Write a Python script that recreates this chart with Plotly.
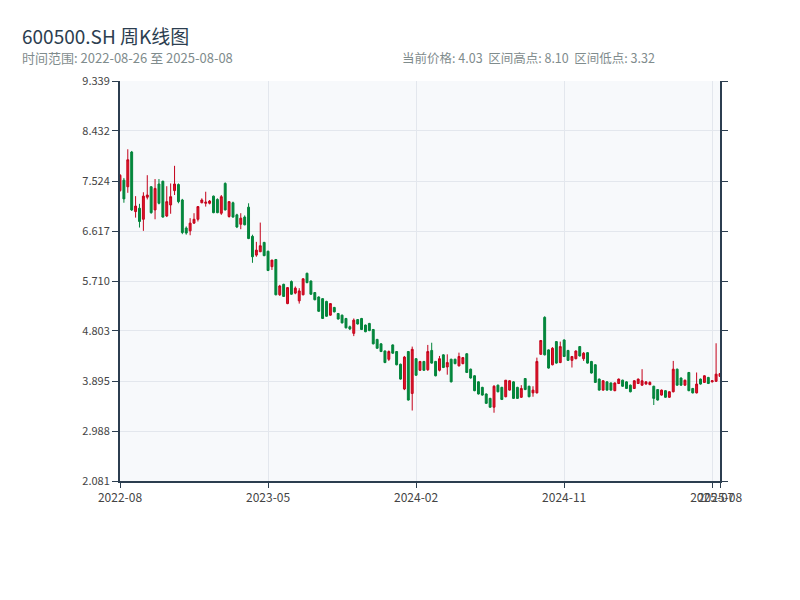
import pandas as pd
import plotly.graph_objects as go

start_date = "2022-08-26"
n_weeks = 155
dates = pd.date_range(start_date, periods=n_weeks, freq="7D")

opens = [7.35, 7.54, 7.42, 8.05, 6.97, 7.03, 6.83, 7.23, 7.42, 7.00,
         7.47, 7.52, 6.89, 7.09, 7.35, 7.46, 7.18, 6.67, 6.62, 6.76,
         6.83, 7.13, 7.12, 7.12, 7.25, 7.19, 6.94, 7.48, 6.88, 7.13,
         6.91, 6.74, 6.87, 7.05, 6.52, 6.18, 6.24, 6.41, 6.25, 5.97,
         6.10, 5.46, 5.65, 5.30, 5.70, 5.49, 5.35, 5.46, 5.85, 5.71,
         5.50, 5.42, 5.39, 5.34, 5.09, 5.23, 5.12, 5.09, 5.03, 4.88,
         4.76, 5.01, 5.03, 4.91, 4.94, 4.83, 4.65, 4.57, 4.44, 4.29,
         4.55, 4.43, 4.20, 3.75, 4.43, 3.67, 4.30, 4.09, 4.25, 4.10,
         4.45, 4.25, 4.09, 4.37, 4.15, 4.29, 4.29, 4.17, 4.21, 4.39,
         4.11, 3.99, 3.88, 3.78, 3.66, 3.58, 3.42, 3.82, 3.78, 3.61,
         3.73, 3.88, 3.78, 3.60, 3.94, 3.80, 3.68, 3.68, 4.38, 5.05,
         4.46, 4.19, 4.61, 4.23, 4.64, 4.45, 4.27, 4.30, 4.52, 4.30,
         4.41, 4.25, 4.19, 3.93, 3.73, 3.88, 3.86, 3.72, 3.85, 3.91,
         3.88, 3.82, 3.76, 3.85, 3.82, 3.84, 3.83, 3.80, 3.74, 3.64,
         3.72, 3.60, 3.70, 4.11, 3.95, 3.82, 4.05, 3.76, 3.68, 3.93,
         3.87, 3.96, 3.88, 3.89, 3.98]
highs = [7.65, 7.58, 8.10, 8.07, 7.25, 7.11, 7.32, 7.63, 7.43, 7.56,
         7.56, 7.53, 7.43, 7.48, 7.80, 7.48, 7.20, 6.70, 6.85, 6.94,
         7.07, 7.21, 7.33, 7.18, 7.26, 7.21, 7.27, 7.50, 7.16, 7.15,
         6.93, 6.94, 6.90, 7.12, 6.55, 6.42, 6.77, 6.42, 6.26, 6.09,
         6.11, 5.64, 5.66, 5.60, 5.72, 5.61, 5.58, 5.76, 5.86, 5.72,
         5.51, 5.43, 5.40, 5.35, 5.31, 5.24, 5.13, 5.10, 5.04, 4.90,
         5.03, 5.02, 5.04, 4.92, 4.95, 4.84, 4.66, 4.58, 4.45, 4.45,
         4.56, 4.44, 4.21, 4.35, 4.44, 4.52, 4.31, 4.26, 4.26, 4.55,
         4.59, 4.26, 4.35, 4.38, 4.38, 4.30, 4.30, 4.41, 4.33, 4.40,
         4.12, 4.00, 3.89, 3.79, 3.67, 3.59, 3.82, 3.83, 3.79, 3.91,
         3.91, 3.89, 3.79, 3.82, 3.95, 3.81, 3.80, 4.32, 4.64, 5.07,
         4.47, 4.51, 4.62, 4.61, 4.65, 4.46, 4.35, 4.45, 4.53, 4.42,
         4.42, 4.26, 4.20, 3.94, 3.91, 3.89, 3.87, 3.87, 3.94, 3.92,
         3.89, 3.83, 3.91, 3.94, 4.11, 3.89, 3.89, 3.81, 3.75, 3.74,
         3.73, 3.71, 4.26, 4.12, 3.96, 3.92, 4.06, 3.77, 4.05, 3.94,
         4.00, 3.97, 3.91, 4.58, 4.04]
lows = [7.33, 7.13, 7.31, 6.98, 6.86, 6.68, 6.62, 7.19, 6.93, 6.83,
        7.10, 6.86, 6.87, 6.93, 7.27, 7.12, 6.56, 6.55, 6.54, 6.75,
        6.79, 7.12, 7.06, 7.10, 6.94, 6.94, 6.91, 6.99, 6.86, 6.86,
        6.67, 6.65, 6.72, 6.47, 6.04, 6.15, 6.24, 6.16, 5.89, 5.91,
        5.45, 5.44, 5.42, 5.29, 5.46, 5.47, 5.30, 5.45, 5.67, 5.46,
        5.36, 5.15, 5.02, 5.06, 5.08, 5.14, 5.01, 4.94, 4.85, 4.82,
        4.71, 4.92, 4.82, 4.78, 4.80, 4.56, 4.48, 4.42, 4.22, 4.26,
        4.39, 4.18, 3.92, 3.73, 3.54, 3.36, 3.99, 4.08, 4.08, 4.08,
        4.21, 3.98, 4.07, 4.13, 4.01, 3.87, 4.20, 4.16, 4.20, 4.04,
        3.94, 3.71, 3.65, 3.63, 3.48, 3.41, 3.32, 3.69, 3.55, 3.60,
        3.72, 3.57, 3.57, 3.59, 3.73, 3.60, 3.61, 3.67, 4.37, 4.36,
        4.12, 4.18, 4.21, 4.22, 4.33, 4.26, 4.14, 4.29, 4.34, 4.26,
        4.21, 4.03, 3.86, 3.72, 3.72, 3.72, 3.72, 3.71, 3.84, 3.79,
        3.75, 3.69, 3.75, 3.84, 3.81, 3.83, 3.82, 3.46, 3.54, 3.63,
        3.59, 3.59, 3.69, 3.81, 3.81, 3.81, 3.71, 3.67, 3.67, 3.83,
        3.86, 3.84, 3.87, 3.88, 3.97]
closes = [7.63, 7.20, 7.91, 7.00, 7.07, 6.79, 7.25, 7.27, 6.95, 7.39,
          7.12, 6.87, 7.15, 7.24, 7.47, 7.15, 6.59, 6.58, 6.76, 6.83,
          7.06, 7.18, 7.14, 7.16, 6.95, 6.95, 7.24, 7.00, 7.15, 6.87,
          6.69, 6.85, 6.73, 6.48, 6.15, 6.27, 6.35, 6.17, 5.90, 6.09,
          5.46, 5.62, 5.43, 5.59, 5.47, 5.58, 5.53, 5.75, 5.68, 5.47,
          5.37, 5.16, 5.03, 5.07, 5.30, 5.15, 5.02, 4.95, 4.86, 4.84,
          5.00, 4.93, 4.83, 4.79, 4.81, 4.57, 4.49, 4.43, 4.23, 4.43,
          4.40, 4.19, 3.93, 4.33, 3.55, 4.47, 4.00, 4.25, 4.09, 4.43,
          4.22, 3.99, 4.30, 4.14, 4.23, 3.88, 4.21, 4.34, 4.32, 4.05,
          3.95, 3.72, 3.66, 3.64, 3.49, 3.42, 3.80, 3.70, 3.56, 3.91,
          3.90, 3.58, 3.58, 3.76, 3.74, 3.61, 3.73, 4.25, 4.63, 4.37,
          4.13, 4.49, 4.22, 4.52, 4.34, 4.27, 4.34, 4.44, 4.35, 4.40,
          4.22, 4.04, 3.87, 3.73, 3.90, 3.73, 3.73, 3.86, 3.93, 3.80,
          3.76, 3.70, 3.90, 3.93, 3.90, 3.88, 3.87, 3.58, 3.55, 3.73,
          3.60, 3.70, 4.11, 3.82, 3.82, 3.91, 3.72, 3.68, 3.84, 3.84,
          3.99, 3.85, 3.90, 4.02, 4.03]

y_ticks = [2.081, 2.988, 3.895, 4.803, 5.710, 6.617, 7.524, 8.432, 9.339]
y_tick_labels = ["2.081", "2.988", "3.895", "4.803", "5.710", "6.617", "7.524", "8.432", "9.339"]
x_tick_idx = [0, 38, 76, 114, 152, 154]
x_tick_labels = ["2022-08", "2023-05", "2024-02", "2024-11", "2025-07", "2025-08"]

title_text = "600500.SH 周K线图"
range_text = "时间范围: 2022-08-26 至 2025-08-08"
stats_text = "当前价格: 4.03\u00a0\u00a0区间高点: 8.10\u00a0\u00a0区间低点: 3.32"

FONT = "Noto Sans CJK SC, Noto Sans, sans-serif"
AXIS_COLOR = "#2c3e50"

fig = go.Figure(go.Candlestick(
    x=dates, open=opens, high=highs, low=lows, close=closes,
    increasing=dict(line=dict(color="#c4001a", width=1), fillcolor="#e0182a"),
    decreasing=dict(line=dict(color="#02843a", width=1), fillcolor="#03883c"),
    whiskerwidth=0,
    showlegend=False,
))

fig.update_layout(
    width=800, height=600,
    margin=dict(l=112, r=88, t=73, b=127, autoexpand=False),
    paper_bgcolor="white",
    plot_bgcolor="#f7f9fb",
    font=dict(family=FONT, size=11, color="#444"),
    xaxis=dict(
        type="date",
        range=[dates[0], dates[-1]],
        rangeslider=dict(visible=False),
        tickmode="array",
        tickvals=[dates[i] for i in x_tick_idx],
        ticktext=x_tick_labels,
        tickangle=0,
        automargin=False,
        showgrid=True, gridcolor="#e3e7ed", gridwidth=1,
        showline=True, linecolor=AXIS_COLOR, linewidth=2,
        ticks="outside", ticklen=5, tickcolor=AXIS_COLOR,
        tickfont=dict(size=12, color="#444"),
        zeroline=False,
    ),
    yaxis=dict(
        range=[y_ticks[0], y_ticks[-1]],
        tickmode="array",
        tickvals=y_ticks,
        ticktext=y_tick_labels,
        automargin=False,
        showgrid=True, gridcolor="#e3e7ed", gridwidth=1,
        showline=True, linecolor=AXIS_COLOR, linewidth=2,
        mirror="ticks",
        ticks="outside", ticklen=6, tickcolor=AXIS_COLOR,
        tickfont=dict(size=11, color="#444"),
        zeroline=False,
    ),
    annotations=[
        dict(text=title_text, xref="paper", yref="paper", x=-0.1667, y=1.115,
             xanchor="left", yanchor="middle", showarrow=False,
             font=dict(size=19, color="#2c3e50", family=FONT)),
        dict(text=range_text, xref="paper", yref="paper", x=-0.1667, y=1.0575,
             xanchor="left", yanchor="middle", showarrow=False,
             font=dict(size=13, color="#7f8c8d", family=FONT)),
        dict(text=stats_text, xref="paper", yref="paper", x=0.4667, y=1.0575,
             xanchor="left", yanchor="middle", showarrow=False,
             font=dict(size=12.5, color="#7f8c8d", family=FONT)),
    ],
)

fig.write_html("out.html")
